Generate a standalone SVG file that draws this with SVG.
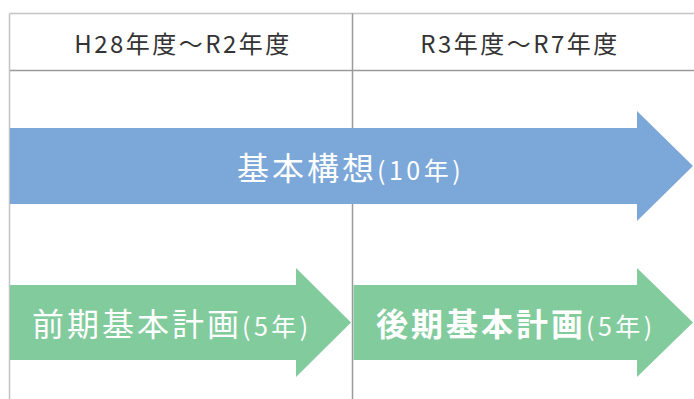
<svg xmlns="http://www.w3.org/2000/svg" width="694" height="399" viewBox="0 0 694 399">
<style>
.hdr{font-family:"Noto Sans CJK JP","Noto Sans",sans-serif;font-size:24px;fill:#333;letter-spacing:2.5px}
.lbl{font-family:"Noto Sans CJK JP","Noto Sans",sans-serif;font-size:32px;fill:#fff;letter-spacing:3px}
.sm{font-size:25px;letter-spacing:3.5px}
.b{font-weight:bold}
.outer{stroke:#c4c4c4;stroke-width:1.5;fill:none}
.inner{stroke:#9a9a9a;stroke-width:1.5;fill:none}
.blue{fill:#7ca7d9}
.green{fill:#82cb9d}
</style>
<rect width="694" height="399" fill="#fff"/>
<g id="grid">
<line class="outer" x1="9.5" y1="13.5" x2="694" y2="13.5"/>
<line class="outer" x1="9.5" y1="13.5" x2="9.5" y2="399"/>
<line class="inner" x1="10" y1="70.5" x2="694" y2="70.5"/>
<line class="inner" x1="352.5" y1="13.5" x2="352.5" y2="399"/>
</g>
<g id="header1"><text class="hdr" x="183" y="53" text-anchor="middle">H28年度～R2年度</text></g>
<g id="header2"><text class="hdr" x="520" y="53" text-anchor="middle">R3年度～R7年度</text></g>
<g id="kihon-koso">
<polygon class="blue" points="10,128 637,128 637,111 693,166 637,221 637,204 10,204"/>
<text class="lbl" x="237" y="180">基本構想<tspan class="sm">(10年)</tspan></text>
</g>
<g id="zenki">
<polygon class="green" points="10,285 296,285 296,268 351,322.5 296,377 296,360 10,360"/>
<text class="lbl" x="32" y="336">前期基本計画<tspan class="sm">(5年)</tspan></text>
</g>
<g id="kouki">
<polygon class="green" points="353.5,285 637,285 637,268 693,322.5 637,377 637,360 353.5,360"/>
<text class="lbl b" x="376" y="336">後期基本計画<tspan class="sm" font-weight="normal">(5年)</tspan></text>
</g>
</svg>
